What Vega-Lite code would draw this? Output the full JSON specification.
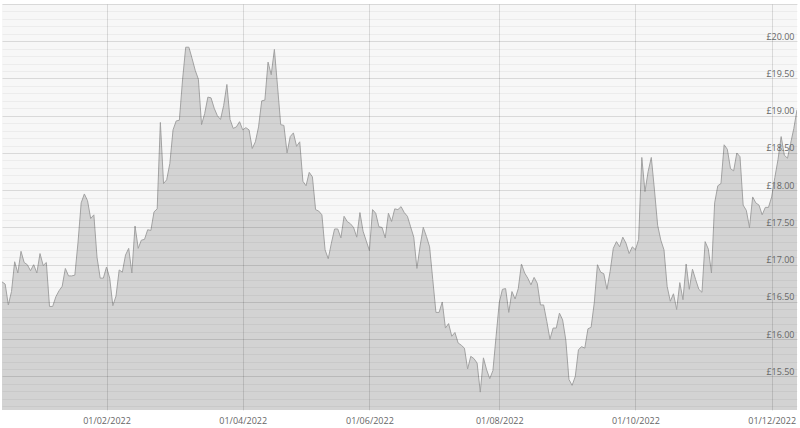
{
  "$schema": "https://vega.github.io/schema/vega-lite/v6.json",
  "autosize": {"type": "none"},
  "width": 795,
  "height": 406,
  "padding": {"left": 2, "top": 4, "right": 3, "bottom": 18},
  "background": "#ffffff",
  "view": {"fill": "#f7f7f7", "stroke": null},
  "data": {"values": [
    {"date":"2021-12-13","price":16.77},{"date":"2021-12-14","price":16.74},{"date":"2021-12-15","price":16.46},{"date":"2021-12-16","price":16.64},{"date":"2021-12-17","price":17.04},
    {"date":"2021-12-20","price":16.89},{"date":"2021-12-21","price":17.18},{"date":"2021-12-22","price":17.03},{"date":"2021-12-23","price":17.0},{"date":"2021-12-24","price":16.92},
    {"date":"2021-12-29","price":17.0},{"date":"2021-12-30","price":16.89},{"date":"2021-12-31","price":17.15},
    {"date":"2022-01-04","price":16.99},{"date":"2022-01-05","price":17.03},{"date":"2022-01-06","price":16.44},{"date":"2022-01-07","price":16.44},
    {"date":"2022-01-10","price":16.57},{"date":"2022-01-11","price":16.65},{"date":"2022-01-12","price":16.71},{"date":"2022-01-13","price":16.95},{"date":"2022-01-14","price":16.85},
    {"date":"2022-01-17","price":16.85},{"date":"2022-01-18","price":16.86},{"date":"2022-01-19","price":17.3},{"date":"2022-01-20","price":17.83},{"date":"2022-01-21","price":17.95},
    {"date":"2022-01-24","price":17.86},{"date":"2022-01-25","price":17.62},{"date":"2022-01-26","price":17.67},{"date":"2022-01-27","price":17.1},{"date":"2022-01-28","price":16.82},
    {"date":"2022-01-31","price":16.82},
    {"date":"2022-02-01","price":16.97},{"date":"2022-02-02","price":16.82},{"date":"2022-02-03","price":16.45},{"date":"2022-02-04","price":16.58},
    {"date":"2022-02-07","price":16.93},{"date":"2022-02-08","price":16.9},{"date":"2022-02-09","price":17.13},{"date":"2022-02-10","price":17.22},{"date":"2022-02-11","price":16.89},
    {"date":"2022-02-14","price":17.52},{"date":"2022-02-15","price":17.22},{"date":"2022-02-16","price":17.33},{"date":"2022-02-17","price":17.34},{"date":"2022-02-18","price":17.47},
    {"date":"2022-02-21","price":17.46},{"date":"2022-02-22","price":17.71},{"date":"2022-02-23","price":17.75},{"date":"2022-02-24","price":18.91},{"date":"2022-02-25","price":18.09},
    {"date":"2022-02-28","price":18.14},
    {"date":"2022-03-01","price":18.36},{"date":"2022-03-02","price":18.81},{"date":"2022-03-03","price":18.93},{"date":"2022-03-04","price":18.94},
    {"date":"2022-03-07","price":19.48},{"date":"2022-03-08","price":19.92},{"date":"2022-03-09","price":19.92},{"date":"2022-03-10","price":19.77},{"date":"2022-03-11","price":19.61},
    {"date":"2022-03-14","price":19.49},{"date":"2022-03-15","price":18.88},{"date":"2022-03-16","price":19.03},{"date":"2022-03-17","price":19.25},{"date":"2022-03-18","price":19.24},
    {"date":"2022-03-21","price":19.1},{"date":"2022-03-22","price":19.0},{"date":"2022-03-23","price":18.95},{"date":"2022-03-24","price":19.14},{"date":"2022-03-25","price":19.42},
    {"date":"2022-03-28","price":18.95},{"date":"2022-03-29","price":18.83},{"date":"2022-03-30","price":18.85},{"date":"2022-03-31","price":18.92},
    {"date":"2022-04-01","price":18.81},
    {"date":"2022-04-04","price":18.84},{"date":"2022-04-05","price":18.81},{"date":"2022-04-06","price":18.56},{"date":"2022-04-07","price":18.65},{"date":"2022-04-08","price":18.85},
    {"date":"2022-04-11","price":19.2},{"date":"2022-04-12","price":19.21},{"date":"2022-04-13","price":19.72},{"date":"2022-04-14","price":19.55},
    {"date":"2022-04-19","price":19.89},{"date":"2022-04-20","price":19.39},{"date":"2022-04-21","price":18.88},{"date":"2022-04-22","price":18.87},
    {"date":"2022-04-25","price":18.5},{"date":"2022-04-26","price":18.72},{"date":"2022-04-27","price":18.77},{"date":"2022-04-28","price":18.59},{"date":"2022-04-29","price":18.65},
    {"date":"2022-05-03","price":18.12},{"date":"2022-05-04","price":18.06},{"date":"2022-05-05","price":18.24},{"date":"2022-05-06","price":18.18},
    {"date":"2022-05-09","price":17.74},{"date":"2022-05-10","price":17.72},{"date":"2022-05-11","price":17.67},{"date":"2022-05-12","price":17.2},{"date":"2022-05-13","price":17.08},
    {"date":"2022-05-16","price":17.29},{"date":"2022-05-17","price":17.48},{"date":"2022-05-18","price":17.48},{"date":"2022-05-19","price":17.36},{"date":"2022-05-20","price":17.65},
    {"date":"2022-05-23","price":17.58},{"date":"2022-05-24","price":17.55},{"date":"2022-05-25","price":17.5},{"date":"2022-05-26","price":17.37},{"date":"2022-05-27","price":17.7},
    {"date":"2022-05-30","price":17.45},{"date":"2022-05-31","price":17.32},
    {"date":"2022-06-01","price":17.19},
    {"date":"2022-06-06","price":17.74},{"date":"2022-06-07","price":17.69},{"date":"2022-06-08","price":17.51},{"date":"2022-06-09","price":17.5},{"date":"2022-06-10","price":17.36},
    {"date":"2022-06-13","price":17.69},{"date":"2022-06-14","price":17.58},{"date":"2022-06-15","price":17.75},{"date":"2022-06-16","price":17.74},{"date":"2022-06-17","price":17.78},
    {"date":"2022-06-20","price":17.7},{"date":"2022-06-21","price":17.65},{"date":"2022-06-22","price":17.51},{"date":"2022-06-23","price":17.37},{"date":"2022-06-24","price":16.95},
    {"date":"2022-06-27","price":17.25},{"date":"2022-06-28","price":17.5},{"date":"2022-06-29","price":17.38},{"date":"2022-06-30","price":17.24},
    {"date":"2022-07-01","price":16.8},
    {"date":"2022-07-04","price":16.36},{"date":"2022-07-05","price":16.36},{"date":"2022-07-06","price":16.5},{"date":"2022-07-07","price":16.15},{"date":"2022-07-08","price":16.21},
    {"date":"2022-07-11","price":16.04},{"date":"2022-07-12","price":16.09},{"date":"2022-07-13","price":15.95},{"date":"2022-07-14","price":15.92},{"date":"2022-07-15","price":15.88},
    {"date":"2022-07-18","price":15.6},{"date":"2022-07-19","price":15.77},{"date":"2022-07-20","price":15.74},{"date":"2022-07-21","price":15.68},{"date":"2022-07-22","price":15.29},
    {"date":"2022-07-25","price":15.75},{"date":"2022-07-26","price":15.59},{"date":"2022-07-27","price":15.47},{"date":"2022-07-28","price":15.58},{"date":"2022-07-29","price":16.04},
    {"date":"2022-08-01","price":16.49},{"date":"2022-08-02","price":16.67},{"date":"2022-08-03","price":16.68},{"date":"2022-08-04","price":16.36},{"date":"2022-08-05","price":16.64},
    {"date":"2022-08-08","price":16.54},{"date":"2022-08-09","price":16.68},{"date":"2022-08-10","price":17.01},{"date":"2022-08-11","price":16.89},{"date":"2022-08-12","price":16.82},
    {"date":"2022-08-15","price":16.73},{"date":"2022-08-16","price":16.83},{"date":"2022-08-17","price":16.75},{"date":"2022-08-18","price":16.46},{"date":"2022-08-19","price":16.46},
    {"date":"2022-08-22","price":16.24},{"date":"2022-08-23","price":16.0},{"date":"2022-08-24","price":16.15},{"date":"2022-08-25","price":16.15},{"date":"2022-08-26","price":16.35},
    {"date":"2022-08-30","price":16.26},{"date":"2022-08-31","price":15.99},
    {"date":"2022-09-01","price":15.46},{"date":"2022-09-02","price":15.38},
    {"date":"2022-09-05","price":15.5},{"date":"2022-09-06","price":15.86},{"date":"2022-09-07","price":15.9},{"date":"2022-09-08","price":15.88},{"date":"2022-09-09","price":16.14},
    {"date":"2022-09-12","price":16.16},{"date":"2022-09-13","price":16.49},{"date":"2022-09-14","price":17.0},{"date":"2022-09-15","price":16.9},{"date":"2022-09-16","price":16.88},
    {"date":"2022-09-20","price":16.67},{"date":"2022-09-21","price":16.91},{"date":"2022-09-22","price":17.22},{"date":"2022-09-23","price":17.31},
    {"date":"2022-09-26","price":17.24},{"date":"2022-09-27","price":17.37},{"date":"2022-09-28","price":17.29},{"date":"2022-09-29","price":17.15},{"date":"2022-09-30","price":17.24},
    {"date":"2022-10-03","price":17.2},{"date":"2022-10-04","price":17.34},{"date":"2022-10-05","price":18.44},{"date":"2022-10-06","price":17.98},{"date":"2022-10-07","price":18.25},
    {"date":"2022-10-10","price":18.44},{"date":"2022-10-11","price":18.0},{"date":"2022-10-12","price":17.53},{"date":"2022-10-13","price":17.33},{"date":"2022-10-14","price":17.2},
    {"date":"2022-10-17","price":16.71},{"date":"2022-10-18","price":16.51},{"date":"2022-10-19","price":16.61},{"date":"2022-10-20","price":16.4},{"date":"2022-10-21","price":16.76},
    {"date":"2022-10-24","price":16.53},{"date":"2022-10-25","price":17.01},{"date":"2022-10-26","price":16.67},{"date":"2022-10-27","price":16.94},{"date":"2022-10-28","price":16.8},
    {"date":"2022-10-31","price":16.67},
    {"date":"2022-11-01","price":16.63},{"date":"2022-11-02","price":17.31},{"date":"2022-11-03","price":17.21},{"date":"2022-11-04","price":16.89},
    {"date":"2022-11-07","price":17.83},{"date":"2022-11-08","price":18.06},{"date":"2022-11-09","price":18.09},{"date":"2022-11-10","price":18.61},{"date":"2022-11-11","price":18.55},
    {"date":"2022-11-14","price":18.29},{"date":"2022-11-15","price":18.26},{"date":"2022-11-16","price":18.5},{"date":"2022-11-17","price":18.45},{"date":"2022-11-18","price":17.8},
    {"date":"2022-11-21","price":17.73},{"date":"2022-11-22","price":17.5},{"date":"2022-11-23","price":17.91},{"date":"2022-11-24","price":17.83},{"date":"2022-11-25","price":17.8},
    {"date":"2022-11-28","price":17.67},{"date":"2022-11-29","price":17.77},{"date":"2022-11-30","price":17.77},
    {"date":"2022-12-01","price":17.91},{"date":"2022-12-02","price":18.17},
    {"date":"2022-12-05","price":18.41},{"date":"2022-12-06","price":18.72},{"date":"2022-12-07","price":18.47},{"date":"2022-12-08","price":18.43},{"date":"2022-12-09","price":18.63},
    {"date":"2022-12-12","price":18.83},{"date":"2022-12-13","price":19.08}
  ]},
  "mark": {"type": "area", "fill": "#d3d3d3", "fillOpacity": 1, "line": {"stroke": "#a3a3a3", "strokeWidth": 1}, "clip": true},
  "encoding": {
    "x": {
      "field": "date",
      "type": "ordinal",
      "scale": {"type": "point", "padding": 0},
      "axis": {
        "title": null,
        "values": ["2022-02-01", "2022-04-01", "2022-06-01", "2022-08-01", "2022-10-03", "2022-12-01"],
        "labelExpr": "'01/' + substring(datum.value, 5, 7) + '/' + substring(datum.value, 0, 4)",
        "labelAngle": 0,
        "ticks": false,
        "domain": false,
        "grid": true,
        "gridColor": "#000000",
        "gridOpacity": 0.12,
        "labelFont": "Open Sans",
        "labelFontSize": 9,
        "labelColor": "#666666",
        "labelPadding": 6,
        "zindex": 1
      }
    },
    "y": {
      "field": "price",
      "type": "quantitative",
      "scale": {"domain": [15.05, 20.5], "zero": false, "nice": false},
      "axis": {
        "orient": "right",
        "title": null,
        "values": [15.1,15.2,15.3,15.4,15.5,15.6,15.7,15.8,15.9,16.0,16.1,16.2,16.3,16.4,16.5,16.6,16.7,16.8,16.9,17.0,17.1,17.2,17.3,17.4,17.5,17.6,17.7,17.8,17.9,18.0,18.1,18.2,18.3,18.4,18.5,18.6,18.7,18.8,18.9,19.0,19.1,19.2,19.3,19.4,19.5,19.6,19.7,19.8,19.9,20.0,20.1,20.2,20.3,20.4,20.5],
        "labelExpr": "abs(datum.value * 2 - round(datum.value * 2)) < 0.01 && datum.value < 20.4 ? '£' + format(datum.value, '.2f') : ''",
        "ticks": false,
        "tickSize": 0,
        "domain": false,
        "grid": true,
        "gridColor": "#000000",
        "gridOpacity": {"condition": {"test": "abs(datum.value * 2 - round(datum.value * 2)) < 0.01", "value": 0.12}, "value": 0.045},
        "labelAlign": "right",
        "labelBaseline": "alphabetic",
        "labelPadding": -3,
        "labelOffset": -2,
        "labelFont": "Open Sans",
        "labelFontSize": 9,
        "labelColor": "#666666",
        "labelBound": false,
        "labelFlush": false,
        "labelOverlap": false,
        "zindex": 1
      }
    }
  }
}
